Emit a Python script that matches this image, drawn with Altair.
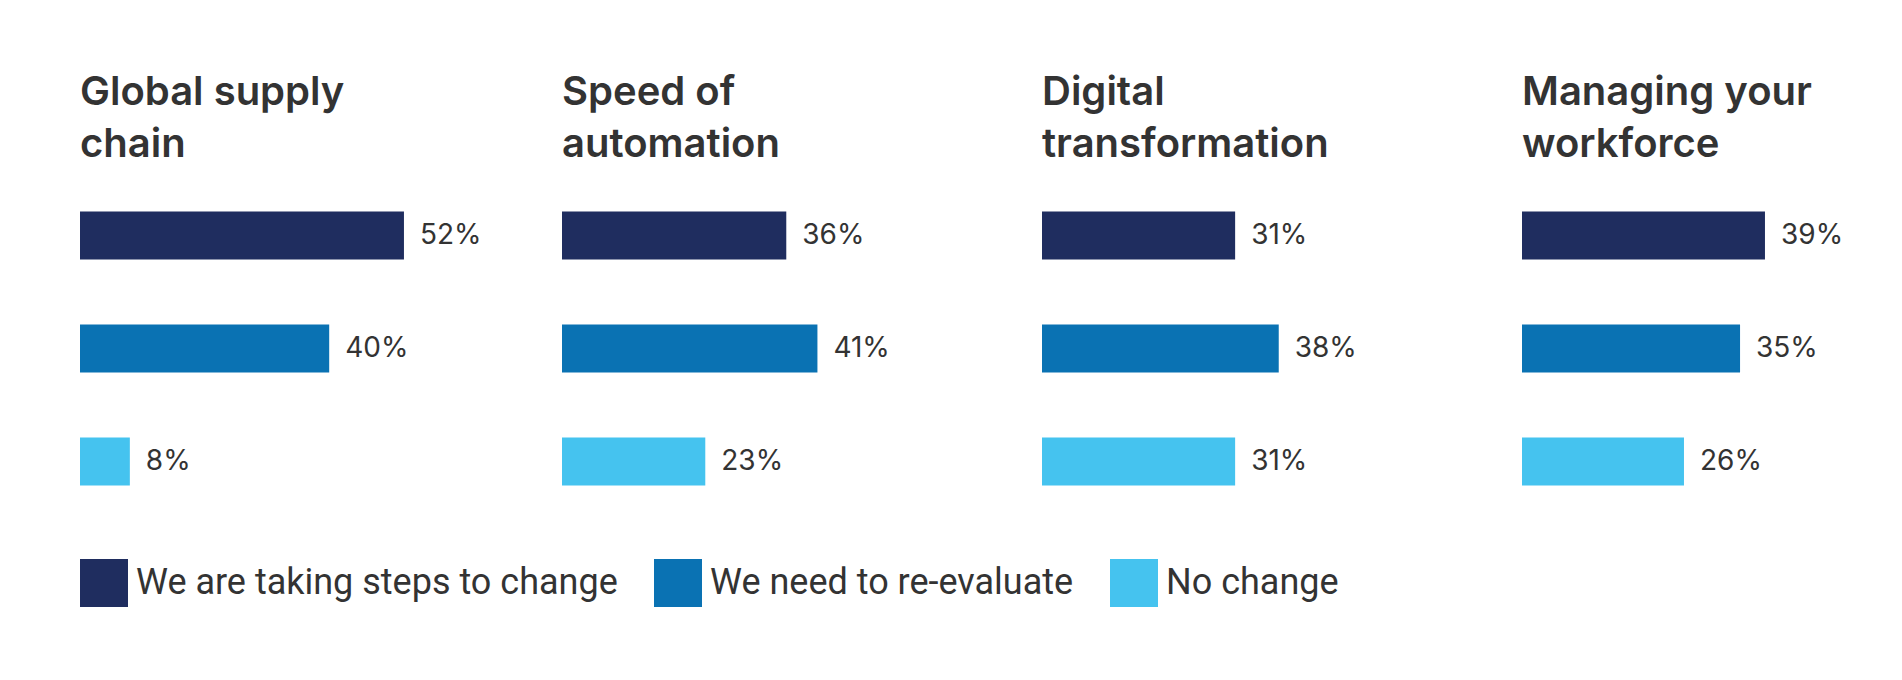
import altair as alt
import pandas as pd

panels = ["Global supply chain", "Speed of automation", "Digital transformation", "Managing your workforce"]
title_lines = [["Global supply", "chain"], ["Speed of", "automation"], ["Digital", "transformation"], ["Managing your", "workforce"]]
statuses = ["We are taking steps to change", "We need to re-evaluate", "No change"]
taking_steps = [52, 36, 31, 39]
re_evaluate = [40, 41, 38, 35]
no_change = [8, 23, 31, 26]
colors = ["#1F2D5F", "#0A72B3", "#45C3EF"]

rows = []
for i, p in enumerate(panels):
    for s, vals in zip(statuses, [taking_steps, re_evaluate, no_change]):
        rows.append({"panel": p, "status": s, "value": vals[i], "label": f"{vals[i]}%"})
df = pd.DataFrame(rows)

FONT = "Inter"
LEGEND_FONT = "Roboto"
TEXT = "#333333"
PX_PER_PCT = 6.23

charts = []
for i, p in enumerate(panels):
    w = 400 if i < 3 else 330
    base = alt.Chart(df).transform_filter(alt.datum.panel == p)
    y = alt.Y("status:N", sort=statuses, axis=None,
              scale=alt.Scale(paddingInner=0.575, paddingOuter=0.2875))
    x = alt.X("value:Q", axis=None,
              scale=alt.Scale(domain=[0, w / PX_PER_PCT], nice=False, zero=True))
    bars = base.mark_bar().encode(
        x=x, y=y,
        color=alt.Color("status:N", sort=statuses,
                        scale=alt.Scale(domain=statuses, range=colors),
                        legend=alt.Legend(title=None, orient="none", direction="horizontal",
                                          legendX=0, legendY=380,
                                          symbolType="square", symbolSize=2304,
                                          symbolStrokeWidth=0, symbolOpacity=1,
                                          labelFont=LEGEND_FONT, labelFontSize=36, labelColor=TEXT,
                                          labelOffset=8, columnPadding=36, labelLimit=1000)),
    )
    labels = base.mark_text(align="left", baseline="middle", dx=16, font=FONT,
                            fontSize=28, color=TEXT).encode(x=x, y=y, text="label:N")
    ch = alt.layer(bars, labels).properties(
        width=w, height=339,
        title=alt.TitleParams(title_lines[i], anchor="start", font=FONT, fontSize=40,
                              fontWeight=600, color=TEXT, lineHeight=52, offset=14),
    )
    charts.append(ch)

chart = alt.hconcat(*charts, spacing=80).properties(
    padding={"left": 72, "top": 65, "right": 5, "bottom": 5}
).configure_view(stroke=None)

chart.save("out.html", embed_options={"renderer": "svg", "actions": False})
